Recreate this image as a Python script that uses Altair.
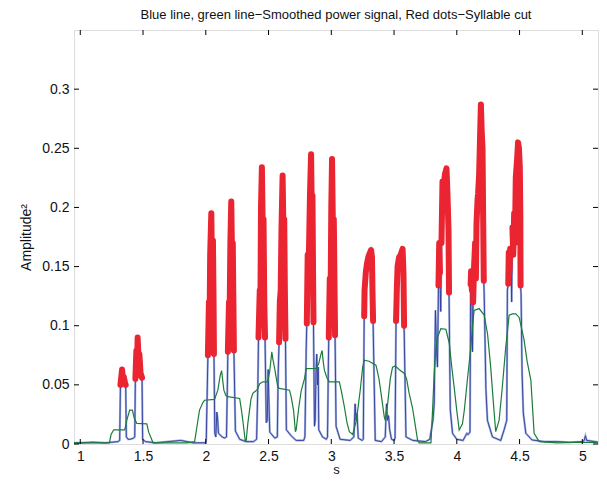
import altair as alt
import pandas as pd

# ---- data ----
blue_x = [0.95, 1.0, 1.1, 1.2, 1.30,
          1.314, 1.32, 1.333, 1.34, 1.346, 1.356, 1.362, 1.367, 1.38, 1.40, 1.425,
          1.434, 1.439, 1.447, 1.452, 1.457, 1.465, 1.471, 1.48, 1.492, 1.497, 1.52, 1.6, 1.7, 1.8, 1.9, 2.0,
          2.004, 2.017, 2.025, 2.03, 2.035, 2.044, 2.05, 2.057, 2.062, 2.065, 2.072, 2.08, 2.088, 2.094, 2.101, 2.13, 2.15, 2.165,
          2.172, 2.176, 2.185, 2.19, 2.196, 2.203, 2.21, 2.215, 2.22, 2.224, 2.236, 2.27, 2.32, 2.38, 2.405,
          2.415, 2.42, 2.43, 2.435, 2.44, 2.447, 2.455, 2.46, 2.466, 2.472, 2.482, 2.49, 2.497, 2.502, 2.51, 2.55, 2.57,
          2.577, 2.584, 2.59, 2.597, 2.603, 2.612, 2.62, 2.625, 2.63, 2.635, 2.642, 2.68, 2.72, 2.78,
          2.79, 2.80, 2.805, 2.812, 2.82, 2.83, 2.839, 2.845, 2.85, 2.855, 2.858, 2.866, 2.872, 2.878, 2.884, 2.89, 2.896, 2.90, 2.93, 2.96, 2.97,
          2.977, 2.98, 2.988, 2.995, 3.0, 3.006, 3.013, 3.02, 3.026, 3.03, 3.038, 3.07, 3.15, 3.18, 3.19, 3.197, 3.205, 3.215, 3.245,
          3.255, 3.262, 3.265, 3.275, 3.285, 3.295, 3.305, 3.317, 3.324, 3.328, 3.333, 3.35, 3.40, 3.43, 3.44, 3.448, 3.456, 3.465, 3.48, 3.50,
          3.508, 3.516, 3.522, 3.528, 3.54, 3.553, 3.568, 3.575, 3.58, 3.595, 3.65, 3.75, 3.785, 3.794, 3.81, 3.82, 3.83, 3.838, 3.846,
          3.854, 3.86, 3.866, 3.872, 3.878, 3.886, 3.895, 3.905, 3.918, 3.926, 3.934, 3.938, 3.948, 3.966, 4.0, 4.05, 4.08, 4.09, 4.105,
          4.11, 4.114, 4.12, 4.125, 4.13, 4.138, 4.146, 4.152, 4.157, 4.165, 4.17, 4.178, 4.184, 4.192, 4.198, 4.205, 4.21, 4.215, 4.218,
          4.232, 4.244, 4.284, 4.35, 4.377, 4.39, 4.398,
          4.403, 4.41, 4.414, 4.42, 4.425, 4.432, 4.437, 4.443, 4.45, 4.457, 4.463, 4.47, 4.48, 4.488, 4.495, 4.502, 4.506, 4.508, 4.512,
          4.52, 4.53, 4.55, 4.60, 4.7, 4.8, 4.9, 5.0, 5.015, 5.025, 5.035, 5.1, 5.15]
blue_y = [0.001, 0.001, 0.0015, 0.001, 0.002,
          0.003, 0.050, 0.063, 0.055, 0.057, 0.052, 0.050, 0.006, 0.004, 0.004, 0.005,
          0.006, 0.055, 0.079, 0.058, 0.090, 0.070, 0.076, 0.060, 0.056, 0.004, 0.002, 0.001, 0.002, 0.003, 0.001, 0.001,
          0.005, 0.075, 0.12, 0.10, 0.16, 0.195, 0.14, 0.172, 0.12, 0.076, 0.009, 0.006, 0.027, 0.022, 0.009, 0.006, 0.005, 0.006,
          0.05, 0.078, 0.12, 0.11, 0.17, 0.205, 0.15, 0.17, 0.12, 0.079, 0.011, 0.004, 0.002, 0.002, 0.004,
          0.05, 0.09, 0.13, 0.11, 0.20, 0.234, 0.17, 0.19, 0.12, 0.09, 0.018, 0.02, 0.063, 0.04, 0.01, 0.005, 0.006,
          0.06, 0.086, 0.12, 0.13, 0.18, 0.227, 0.17, 0.19, 0.13, 0.089, 0.012, 0.007, 0.003, 0.003,
          0.006, 0.08, 0.102, 0.16, 0.15, 0.21, 0.245, 0.19, 0.21, 0.14, 0.103, 0.015, 0.02, 0.06, 0.076, 0.05, 0.065, 0.012, 0.006, 0.004, 0.006,
          0.07, 0.09, 0.14, 0.13, 0.20, 0.241, 0.18, 0.19, 0.13, 0.092, 0.015, 0.004, 0.003, 0.006, 0.034, 0.02, 0.026, 0.005, 0.003,
          0.004, 0.108, 0.13, 0.145, 0.153, 0.158, 0.161, 0.164, 0.158, 0.13, 0.104, 0.003, 0.002, 0.006, 0.034, 0.02, 0.024, 0.012, 0.004, 0.003,
          0.005, 0.104, 0.13, 0.15, 0.158, 0.16, 0.165, 0.145, 0.10, 0.006, 0.003, 0.002, 0.004, 0.01, 0.02, 0.034, 0.113, 0.08, 0.065,
          0.134, 0.17, 0.145, 0.112, 0.17, 0.222, 0.215, 0.228, 0.233, 0.21, 0.18, 0.128, 0.029, 0.009, 0.004, 0.003, 0.009, 0.008, 0.01,
          0.135, 0.146, 0.13, 0.078, 0.12, 0.151, 0.17, 0.14, 0.186, 0.206, 0.212, 0.228, 0.254, 0.287, 0.265, 0.25, 0.19, 0.138, 0.127,
          0.046, 0.02, 0.006, 0.003, 0.012, 0.017, 0.02,
          0.13, 0.1355, 0.162, 0.145, 0.165, 0.16, 0.12, 0.183, 0.16, 0.195, 0.17, 0.2255, 0.24, 0.255, 0.25, 0.234, 0.195, 0.134, 0.127,
          0.06, 0.026, 0.009, 0.0034, 0.002, 0.002, 0.0015, 0.002, 0.003, 0.007, 0.003, 0.002, 0.001]

green_x = [0.95, 1.1, 1.232, 1.245, 1.267, 1.354, 1.37, 1.394, 1.415, 1.43, 1.45, 1.53, 1.545, 1.58, 1.7, 1.85,
           1.911, 1.93, 1.95, 1.977, 1.99, 2.07, 2.096, 2.115, 2.126, 2.144, 2.16, 2.176, 2.27, 2.285, 2.295, 2.314,
           2.322, 2.335, 2.36, 2.375, 2.41, 2.43, 2.454, 2.494, 2.51, 2.526, 2.534, 2.547, 2.574, 2.587, 2.667, 2.68,
           2.7, 2.714, 2.72, 2.74, 2.76, 2.786, 2.8, 2.88, 2.9, 2.915, 2.927, 2.935, 2.945, 2.965, 2.985, 3.064, 3.08,
           3.104, 3.125, 3.144, 3.17, 3.2, 3.23, 3.25, 3.263, 3.3, 3.356, 3.38, 3.40, 3.422, 3.43, 3.45, 3.47, 3.488,
           3.51, 3.54, 3.582, 3.6, 3.62, 3.648, 3.675, 3.688, 3.70, 3.794, 3.807, 3.82, 3.834, 3.847, 3.873, 3.913,
           3.94, 3.96, 3.98, 4.0, 4.019, 4.045, 4.06, 4.085, 4.112, 4.125, 4.138, 4.178, 4.218, 4.245, 4.27, 4.295,
           4.31, 4.337, 4.36, 4.39, 4.417, 4.443, 4.47, 4.497, 4.536, 4.56, 4.59, 4.616, 4.656, 4.8, 5.0, 5.15]
green_y = [0.001, 0.001, 0.001, 0.008, 0.012, 0.012, 0.02, 0.0287, 0.0287, 0.022, 0.0175, 0.017, 0.010, 0.001, 0.001, 0.001,
           0.002, 0.015, 0.0287, 0.035, 0.037, 0.0377, 0.0455, 0.058, 0.062, 0.0455, 0.041, 0.040, 0.0385, 0.028, 0.020, 0.003,
           0.003, 0.0174, 0.038, 0.0428, 0.046, 0.051, 0.0526, 0.0526, 0.062, 0.078, 0.072, 0.065, 0.048, 0.047, 0.0455, 0.040,
           0.028, 0.0104, 0.012, 0.03, 0.045, 0.055, 0.0638, 0.064, 0.068, 0.075, 0.079, 0.07, 0.0624, 0.056, 0.0526, 0.0526, 0.045,
           0.0315, 0.018, 0.0104, 0.008, 0.02, 0.045, 0.065, 0.0709, 0.070, 0.0666, 0.055, 0.04, 0.023, 0.02, 0.035, 0.055, 0.065,
           0.066, 0.063, 0.0596, 0.055, 0.043, 0.030, 0.0118, 0.003, 0.001, 0.001, 0.0287, 0.06, 0.082, 0.0905, 0.0976, 0.097,
           0.085, 0.065, 0.047, 0.028, 0.0118, 0.017, 0.0287, 0.055, 0.082, 0.100, 0.113, 0.1145, 0.109, 0.093, 0.065, 0.03,
           0.0104, 0.020, 0.045, 0.082, 0.109, 0.110, 0.110, 0.107, 0.088, 0.07, 0.054, 0.009, 0.002, 0.001, 0.0015, 0.001]

# syllable cut windows (s)
syl_start = [1.32, 1.439, 2.017, 2.176, 2.42, 2.584, 2.805, 2.98, 3.262, 3.516, 3.854, 3.878, 4.11, 4.13, 4.41, 4.443]
syl_end = [1.362, 1.492, 2.065, 2.224, 2.472, 2.635, 2.858, 3.03, 3.333, 3.58, 3.866, 3.938, 4.12, 4.215, 4.432, 4.508]

x_ticks = [1, 1.5, 2, 2.5, 3, 3.5, 4, 4.5, 5]
y_ticks = [0, 0.05, 0.1, 0.15, 0.2, 0.25, 0.3]

title_text = "Blue line, green line\u2212Smoothed power signal, Red dots\u2212Syllable cut"

# ---- tables ----
blue = pd.DataFrame({"t": blue_x, "a": blue_y})
green = pd.DataFrame({"t": green_x, "a": green_y})
rows = []
for i, (s, e) in enumerate(zip(syl_start, syl_end)):
    for xv, yv in zip(blue_x, blue_y):
        if s - 1e-9 <= xv <= e + 1e-9:
            rows.append({"t": xv, "a": yv, "syl": i})
red = pd.DataFrame(rows)
xt = pd.DataFrame({"t": x_ticks})
yt = pd.DataFrame({"a": y_ticks})

W, H = 524, 414
FONT = "Liberation Sans"
xs = alt.Scale(domain=[0.95, 5.125], nice=False, zero=False)
ys = alt.Scale(domain=[0, 0.35], nice=False, zero=False)

x_axis = alt.Axis(values=x_ticks, format="~g", ticks=False, domain=False, grid=False,
                  labelFont=FONT, labelFontSize=14, labelColor="#111", labelPadding=5,
                  title="s", titleFont=FONT, titleFontSize=13, titleFontWeight="normal",
                  titleColor="#111", titleY=32, titleBaseline="bottom")
y_axis = alt.Axis(values=y_ticks, format="~g", ticks=False, domain=False, grid=False,
                  labelFont=FONT, labelFontSize=14, labelColor="#111", labelPadding=5,
                  title="Amplitude\u00b2", titleFont=FONT, titleFontSize=14, titleFontWeight="normal",
                  titleColor="#111", titlePadding=8)

X = alt.X("t:Q", scale=xs, axis=x_axis)
Y = alt.Y("a:Q", scale=ys, axis=y_axis)

base_blue = alt.Chart(blue)
blue_halo = base_blue.mark_line(color="#a3b2de", strokeWidth=2.2, clip=True).encode(x=X, y=Y)
blue_line = base_blue.mark_line(color="#2c3b9b", strokeWidth=0.9, clip=True).encode(x=X, y=Y)
green_line = alt.Chart(green).mark_line(color="#1b7d3b", strokeWidth=1.2, clip=True).encode(x=X, y=Y)
red_line = alt.Chart(red).mark_line(color="#ea2430", strokeWidth=6, strokeCap="round",
                                    strokeJoin="round").encode(x=X, y=Y, detail="syl:N")

tick_bottom = alt.Chart(xt).mark_rule(color="black", strokeWidth=1).encode(
    x=X, y=alt.value(H), y2=alt.value(H - 5))
tick_top = alt.Chart(xt).mark_rule(color="black", strokeWidth=1).encode(
    x=X, y=alt.value(0), y2=alt.value(5))
tick_left = alt.Chart(yt).mark_rule(color="black", strokeWidth=1).encode(
    y=Y, x=alt.value(0), x2=alt.value(5))
tick_right = alt.Chart(yt).mark_rule(color="black", strokeWidth=1).encode(
    y=Y, x=alt.value(W), x2=alt.value(W - 5))

chart = alt.layer(
    blue_halo, blue_line, green_line, red_line,
    tick_bottom, tick_top, tick_left, tick_right,
).properties(
    width=W, height=H,
    padding={"left": 66, "top": 22, "right": 1, "bottom": 32},
    autosize="none",
    title=alt.Title(title_text, font=FONT, fontSize=13, fontWeight="normal",
                    color="#111", anchor="middle", offset=8),
).configure_view(
    stroke="black", strokeWidth=1
).configure(background="white")

chart.save("out.html", embed_options={"renderer": "svg", "actions": False})
